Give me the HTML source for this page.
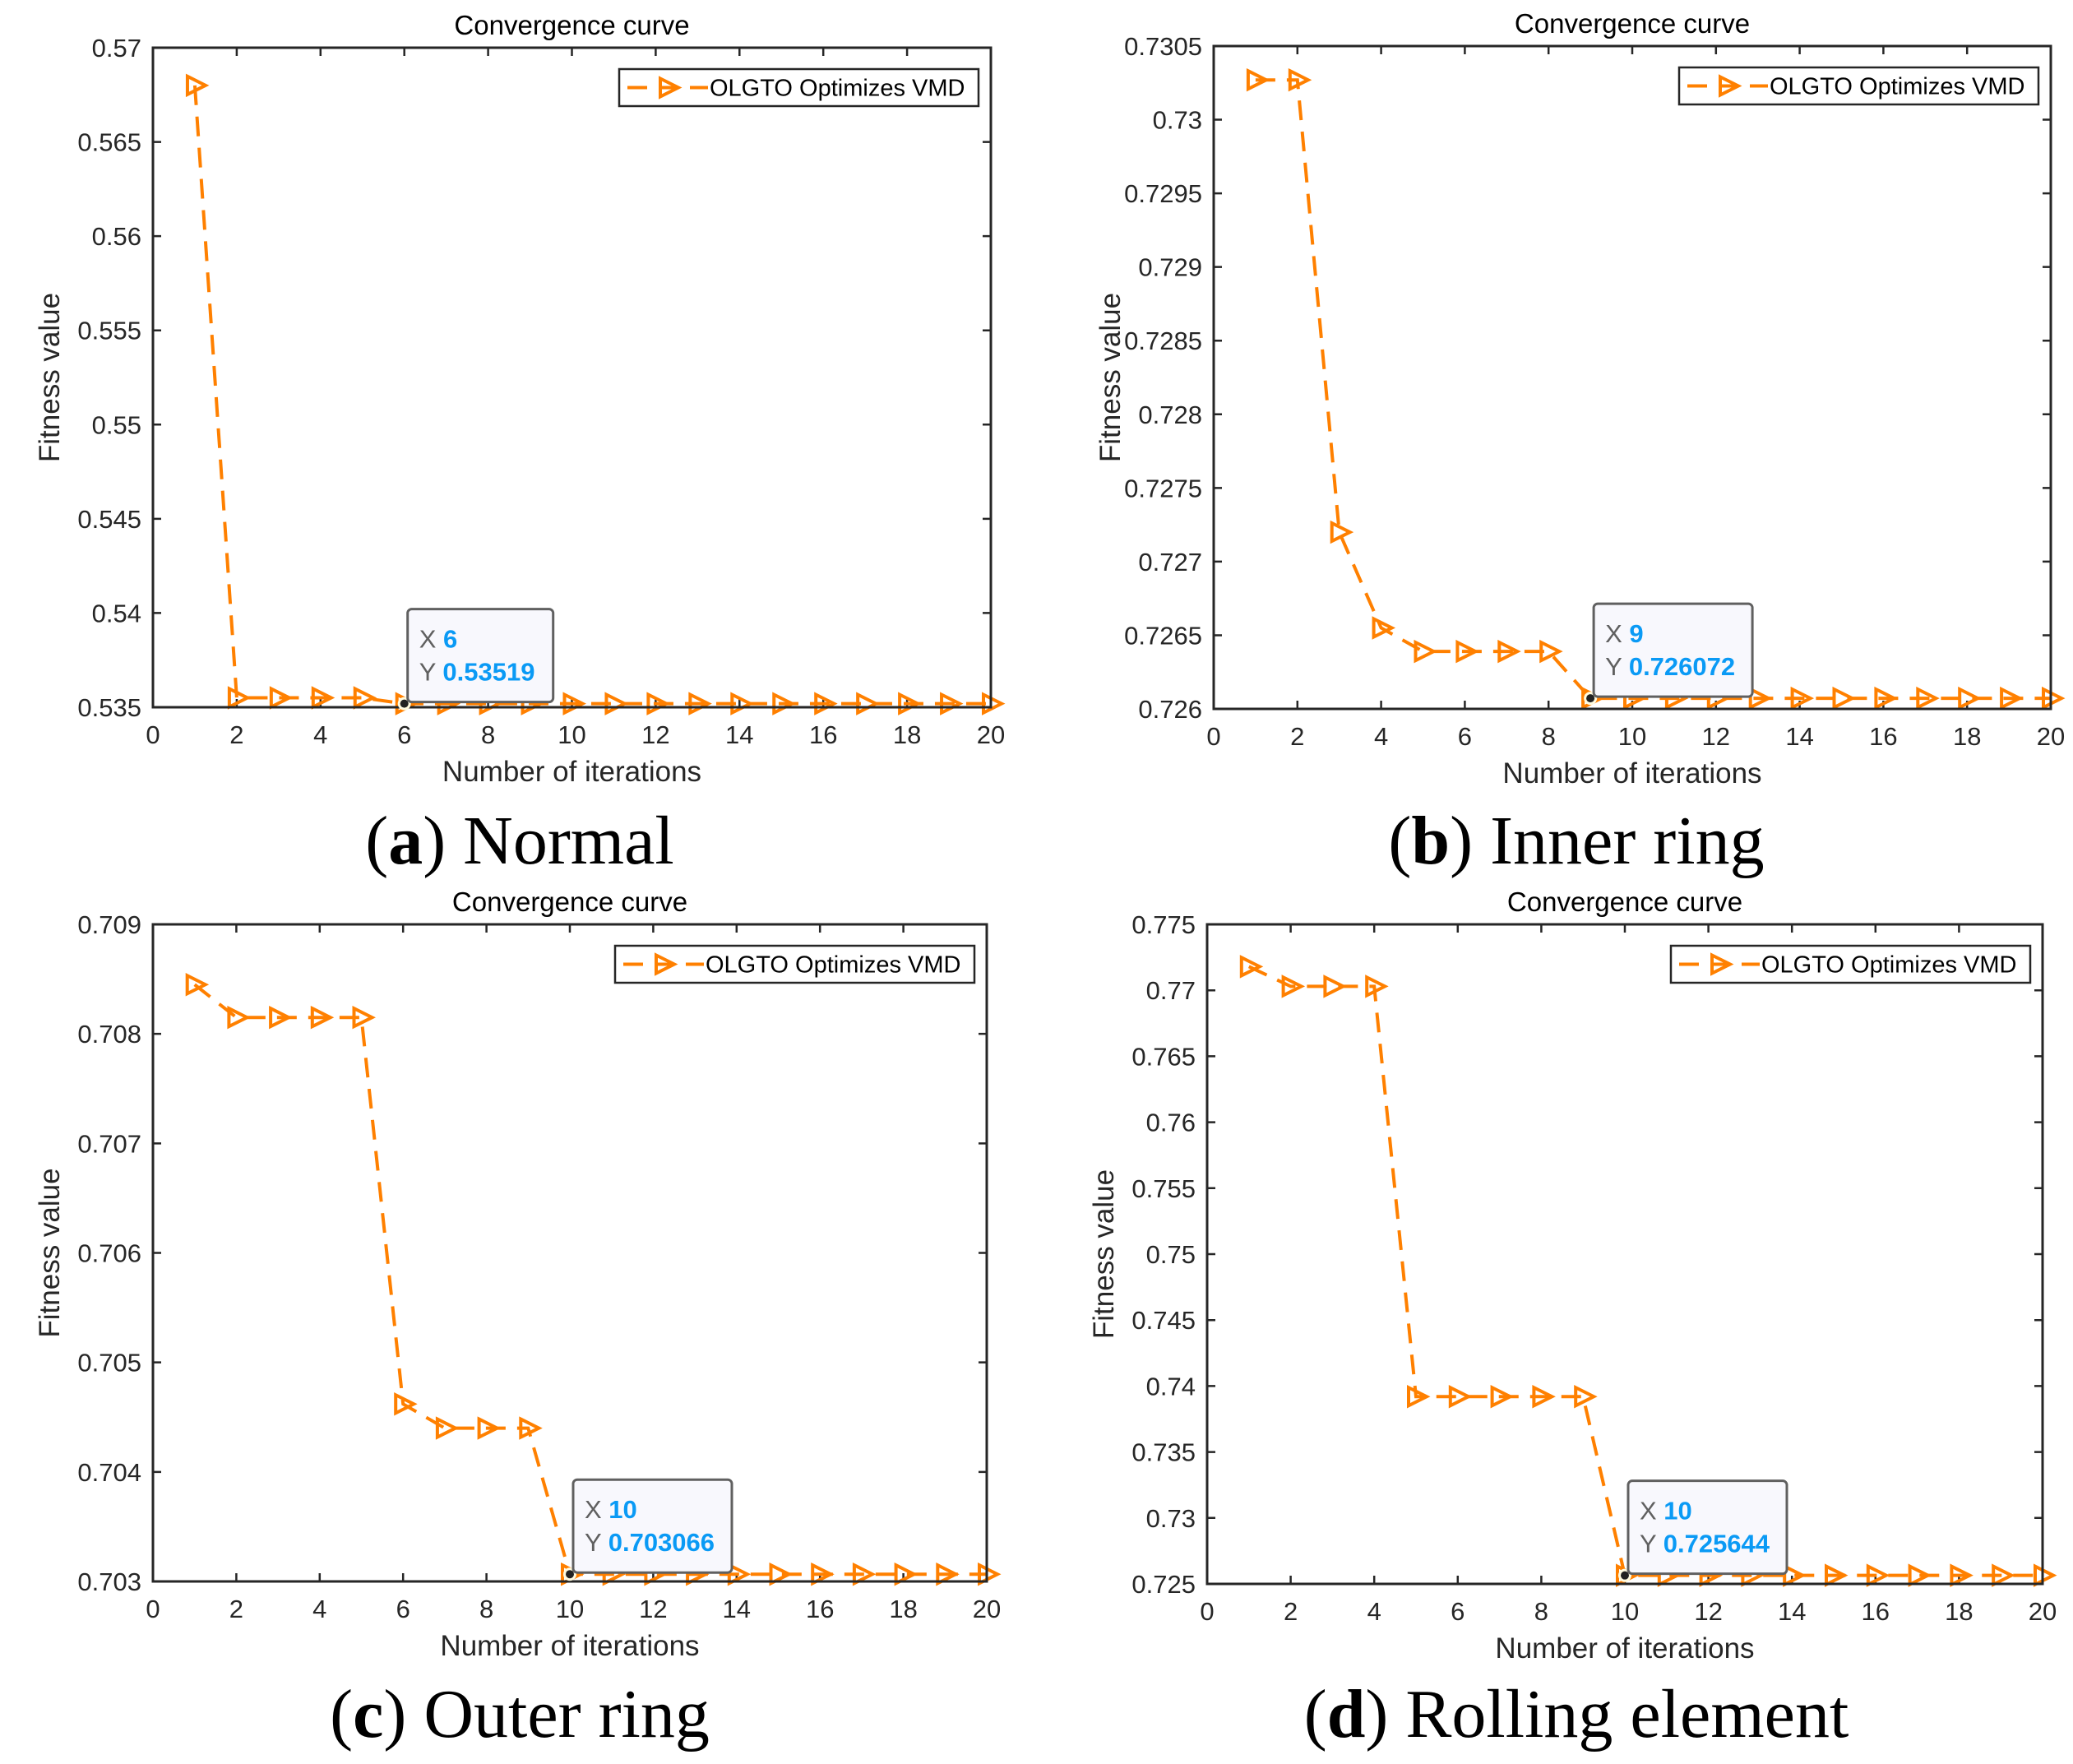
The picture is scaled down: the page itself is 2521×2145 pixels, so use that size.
<!DOCTYPE html>
<html><head><meta charset="utf-8"><style>
html,body{margin:0;padding:0;background:#fff;}
svg{display:block;}
</style></head><body>
<svg id="fig" width="2521" height="2145" viewBox="0 0 2521 2145" xmlns="http://www.w3.org/2000/svg"></svg>
<script>
// Panel data
const iterations = [1,2,3,4,5,6,7,8,9,10,11,12,13,14,15,16,17,18,19,20];
const xTicks = [0,2,4,6,8,10,12,14,16,18,20];
const seriesA = [0.568,0.5355,0.5355,0.5355,0.5355,0.53519,0.53519,0.53519,0.53519,0.53519,0.53519,0.53519,0.53519,0.53519,0.53519,0.53519,0.53519,0.53519,0.53519,0.53519];
const yTicksA = ["0.535","0.54","0.545","0.55","0.555","0.56","0.565","0.57"];
const seriesB = [0.73027,0.73027,0.7272,0.72655,0.72639,0.72639,0.72639,0.72639,0.726072,0.726072,0.726072,0.726072,0.726072,0.726072,0.726072,0.726072,0.726072,0.726072,0.726072,0.726072];
const yTicksB = ["0.726","0.7265","0.727","0.7275","0.728","0.7285","0.729","0.7295","0.73","0.7305"];
const seriesC = [0.70845,0.70815,0.70815,0.70815,0.70815,0.70462,0.7044,0.7044,0.7044,0.703066,0.703066,0.703066,0.703066,0.703066,0.703066,0.703066,0.703066,0.703066,0.703066,0.703066];
const yTicksC = ["0.703","0.704","0.705","0.706","0.707","0.708","0.709"];
const seriesD = [0.7718,0.7703,0.7703,0.7703,0.7392,0.7392,0.7392,0.7392,0.7392,0.725644,0.725644,0.725644,0.725644,0.725644,0.725644,0.725644,0.725644,0.725644,0.725644,0.725644];
const yTicksD = ["0.725","0.73","0.735","0.74","0.745","0.75","0.755","0.76","0.765","0.77","0.775"];
const tipIndex = [5, 8, 9, 9];
const tipLabels = ["0.53519","0.726072","0.703066","0.725644"];

const NS = "http://www.w3.org/2000/svg";
const svg = document.getElementById('fig');
const ORANGE = "#FF8000";
function el(tag, attrs, parent){
  const e = document.createElementNS(NS, tag);
  for (const k in attrs) e.setAttribute(k, attrs[k]);
  (parent||svg).appendChild(e);
  return e;
}
const panels = [
  {id:'a', L:186, R:1205, T:58, B:860, data:seriesA, yt:yTicksA, cap:'a', capText:' Normal', cx:632, cy:1050},
  {id:'b', L:1476, R:2494, T:56, B:862, data:seriesB, yt:yTicksB, cap:'b', capText:' Inner ring', cx:1917, cy:1050},
  {id:'c', L:186, R:1200, T:1124, B:1923, data:seriesC, yt:yTicksC, cap:'c', capText:' Outer ring', cx:632, cy:2112},
  {id:'d', L:1468, R:2484, T:1124, B:1926, data:seriesD, yt:yTicksD, cap:'d', capText:' Rolling element', cx:1917, cy:2112}
];
panels.forEach((p, pi) => {
  const g = el('g', {});
  
  
  const yMin = parseFloat(p.yt[0]), yMax = parseFloat(p.yt[p.yt.length-1]);
  const xs = v => p.L + (v - xTicks[0]) / (xTicks[xTicks.length-1] - xTicks[0]) * (p.R - p.L);
  const ys = v => p.B - (v - yMin) / (yMax - yMin) * (p.B - p.T);
  xTicks.forEach(t => {
    const x = xs(t);
    const tk = el('path', {d:`M${x},${p.B}v-10M${x},${p.T}v10`, stroke:'#262626', 'stroke-width':2.5}, g);
    
    
    const tl = el('text', {x:x, y:p.B+44, 'text-anchor':'middle', 'font-family':'Liberation Sans, sans-serif', 'font-size':31, fill:'#262626'}, g);
    tl.textContent = t;
    
    
  });
  p.yt.forEach(t => {
    const y = ys(parseFloat(t));
    const tk = el('path', {d:`M${p.L},${y}h10M${p.R},${y}h-10`, stroke:'#262626', 'stroke-width':2.5}, g);
    
    
    const tl = el('text', {x:p.L-14, y:y+11, 'text-anchor':'end', 'font-family':'Liberation Sans, sans-serif', 'font-size':31, fill:'#262626'}, g);
    tl.textContent = t;
    
    
  });
  const pts = p.data.map((v,i) => [xs(iterations[i]), ys(v)]);
  const line = el('polyline', {points: pts.map(q=>q.join(',')).join(' '), fill:'none', stroke:ORANGE, 'stroke-width':4, 'stroke-dasharray':'24,14'}, g);
  
  
  pts.forEach(q => {
    const m = el('path', {d:`M${q[0]-9},${q[1]-11}L${q[0]+13},${q[1]}L${q[0]-9},${q[1]+11}Z`, fill:'none', stroke:ORANGE, 'stroke-width':4}, g);
    
    
  });
  const box = el('rect', {x:p.L, y:p.T, width:p.R-p.L, height:p.B-p.T, fill:'none', stroke:'#262626', 'stroke-width':3}, g);
  
  
  const title = el('text', {x:(p.L+p.R)/2, y:p.T-16, 'text-anchor':'middle', 'font-family':'Liberation Sans, sans-serif', 'font-size':33, fill:'#000'}, g);
  title.textContent = 'Convergence curve';
  
  
  const xl = el('text', {x:(p.L+p.R)/2, y:p.B+90, 'text-anchor':'middle', 'font-family':'Liberation Sans, sans-serif', 'font-size':35, fill:'#262626'}, g);
  xl.textContent = 'Number of iterations';
  
  
  const ylx = p.L - 114, yly = (p.T+p.B)/2;
  const yl = el('text', {x:ylx, y:yly, 'text-anchor':'middle', 'font-family':'Liberation Sans, sans-serif', 'font-size':35, fill:'#262626', transform:`rotate(-90 ${ylx} ${yly})`}, g);
  yl.textContent = 'Fitness value';
  
  
  const lw = 437, lh = 45, lx = p.R - 15 - lw, ly = p.T + 26;
  const lg = el('g', {}, g);
  
  
  el('rect', {x:lx, y:ly, width:lw, height:lh, fill:'#fff', stroke:'#262626', 'stroke-width':2.5}, lg);
  el('line', {x1:lx+10, y1:ly+lh/2, x2:lx+108, y2:ly+lh/2, stroke:ORANGE, 'stroke-width':4, 'stroke-dasharray':'24,14'}, lg);
  el('path', {d:`M${lx+50},${ly+lh/2-11}L${lx+72},${ly+lh/2}L${lx+50},${ly+lh/2+11}Z`, fill:'none', stroke:ORANGE, 'stroke-width':4}, lg);
  const lt = el('text', {x:lx+110, y:ly+lh/2+10, 'font-family':'Liberation Sans, sans-serif', 'font-size':29, fill:'#000'}, lg);
  lt.textContent = 'OLGTO Optimizes VMD';
  
  
  const ti = tipIndex[pi];
  const px = xs(iterations[ti]), py = ys(p.data[ti]);
  const tg = el('g', {}, g);
  
  
  el('circle', {cx:px, cy:py, r:8, fill:'#fffbe0'}, tg);
  el('circle', {cx:px, cy:py, r:5, fill:'#222'}, tg);
  const tw = tipLabels[pi].length > 7 ? 193 : 177;
  el('rect', {x:px+4, y:py-115, width:tw, height:113, rx:5, fill:'#f8f8fd', stroke:'#606060', 'stroke-width':3}, tg);
  const t1 = el('text', {x:px+18, y:py-68, 'font-family':'Liberation Sans, sans-serif', 'font-size':31, fill:'#606060'}, tg);
  t1.innerHTML = 'X <tspan fill="#0A9AF5" font-weight="bold">' + iterations[ti] + '</tspan>';
  const t2 = el('text', {x:px+18, y:py-28, 'font-family':'Liberation Sans, sans-serif', 'font-size':31, fill:'#606060'}, tg);
  t2.innerHTML = 'Y <tspan fill="#0A9AF5" font-weight="bold">' + tipLabels[pi] + '</tspan>';
  const cap = el('text', {x:p.cx, y:p.cy, 'text-anchor':'middle', 'font-family':'Liberation Serif, serif', 'font-size':84, fill:'#000'});
  cap.innerHTML = '(<tspan font-weight="bold">' + p.cap + '</tspan>)' + p.capText;
  
  
});
</script>
</body></html>
